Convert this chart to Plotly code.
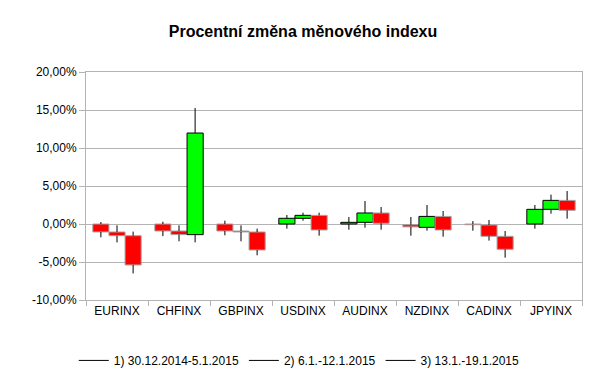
import plotly.graph_objects as go

categories = ["EURINX", "CHFINX", "GBPINX", "USDINX", "AUDINX", "NZDINX", "CADINX", "JPYINX"]
weeks = ["1) 30.12.2014-5.1.2015", "2) 6.1.-12.1.2015", "3) 13.1.-19.1.2015"]

# week 1
w1_open  = [0.00, 0.00, 0.00, 0.00, 0.00, -0.10, 0.00, 0.00]
w1_close = [-1.05, -0.92, -0.92, 0.75, 0.22, -0.38, -0.10, 1.93]
w1_high  = [0.26, 0.30, 0.44, 1.18, 0.92, 0.92, 0.39, 2.50]
w1_low   = [-1.75, -1.60, -1.49, -0.61, -0.75, -1.54, -0.88, -0.61]
# week 2
w2_open  = [-1.05, -0.92, -0.92, 0.75, 0.22, -0.44, -0.13, 1.93]
w2_close = [-1.54, -1.40, -1.05, 1.14, 1.45, 1.00, -1.62, 3.11]
w2_high  = [-0.18, -0.18, -0.18, 1.49, 3.03, 2.50, 0.53, 3.86]
w2_low   = [-2.42, -2.28, -2.28, 0.44, -0.48, -0.88, -2.19, 1.36]
# week 3
w3_open  = [-1.54, -1.40, -1.05, 1.14, 1.45, 1.00, -1.62, 3.11]
w3_close = [-5.39, 11.97, -3.42, -0.79, 0.09, -0.79, -3.33, 1.80]
w3_high  = [-1.00, 15.26, -0.61, 1.49, 2.24, 1.71, -0.92, 4.34]
w3_low   = [-6.50, -2.41, -4.12, -1.54, -0.75, -1.67, -4.43, 0.70]

ytick_vals = [-10, -5, 0, 5, 10, 15, 20]
ytick_labels = ["-10,00%", "-5,00%", "0,00%", "5,00%", "10,00%", "15,00%", "20,00%"]

series = [
    (w1_open, w1_close, w1_high, w1_low),
    (w2_open, w2_close, w2_high, w2_low),
    (w3_open, w3_close, w3_high, w3_low),
]

GREEN = "#00ff00"
RED = "#ff0000"
GRID = "#b3b3b3"
BOX_W = 0.26

fig = go.Figure()

for w, (o, c, h, l) in enumerate(series):
    xs = [i + (w - 1) * BOX_W for i in range(len(categories))]
    up = [cc >= oo for oo, cc in zip(o, c)]
    # wicks (split so they are not drawn over the boxes)
    wx, wy = [], []
    for x, oo, cc, hh, ll in zip(xs, o, c, h, l):
        top, bot = max(oo, cc), min(oo, cc)
        wx += [x, x, None, x, x, None]
        wy += [top, hh, None, bot, ll, None]
    fig.add_trace(go.Scatter(
        x=wx, y=wy, mode="lines", name=weeks[w],
        line=dict(color="black", width=1), hoverinfo="skip",
    ))
    fig.add_trace(go.Bar(
        x=xs, base=o, y=[cc - oo for oo, cc in zip(o, c)], width=BOX_W,
        marker=dict(color=[GREEN if u else RED for u in up],
                    line=dict(color=["black" if u else "#a6a6a6" for u in up], width=1)),
        showlegend=False,
    ))

fig.update_layout(
    width=606, height=379,
    margin=dict(l=86, r=24, t=72, b=79, autoexpand=False),
    paper_bgcolor="white", plot_bgcolor="white",
    barmode="overlay",
    font=dict(family="Liberation Sans, Arial, sans-serif", size=12, color="black"),
    title=dict(text="<b>Procentní změna měnového indexu</b>", x=0.5, xanchor="center",
               y=1 - 31 / 379, yanchor="middle", font=dict(size=16, color="black")),
    showlegend=True,
    legend=dict(orientation="h", x=0.43, xanchor="center", y=-0.265, yanchor="middle",
                font=dict(size=12), traceorder="normal"),
)

fig.update_yaxes(
    range=[-10, 20], tickmode="array", tickvals=ytick_vals, ticktext=ytick_labels,
    showgrid=True, gridcolor=GRID, gridwidth=1, zeroline=False,
    showline=True, linecolor=GRID, linewidth=1, mirror=True,
    ticks="outside", ticklen=6, tickcolor=GRID, automargin=False,
)
fig.update_xaxes(
    range=[-0.5, len(categories) - 0.5], tickmode="array",
    tickvals=list(range(len(categories))), ticktext=categories,
    ticks="", showgrid=False, zeroline=False,
    showline=True, linecolor=GRID, linewidth=1, mirror=True, automargin=False,
    minor=dict(tickmode="array", tickvals=[i - 0.5 for i in range(len(categories) + 1)],
               ticks="outside", ticklen=5, tickcolor=GRID, showgrid=False),
)

fig.write_html("out.html", config={"displayModeBar": False},
               post_script="document.body.style.margin='0px';")
